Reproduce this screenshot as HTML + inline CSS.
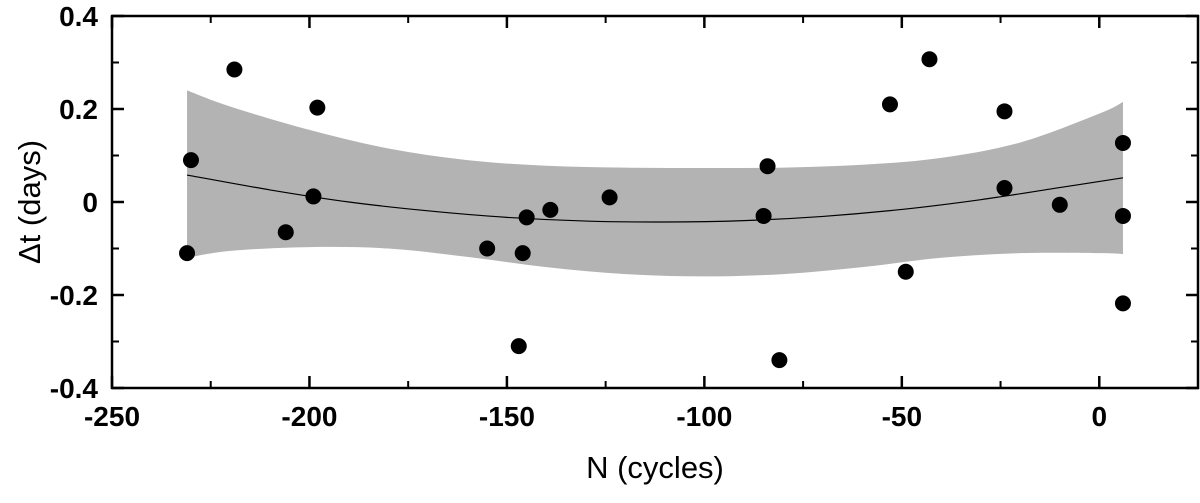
<!DOCTYPE html>
<html><head><meta charset="utf-8"><style>
html,body{margin:0;padding:0;background:#fff;}
svg{display:block;font-family:"Liberation Sans",Arial,sans-serif;}
</style></head><body>
<svg id="chart" width="1200" height="503" viewBox="0 0 1200 503">
<g id="band"></g>
<g id="fit"></g>
<g id="pts"></g>
<rect x="112" y="16" width="1086" height="372" fill="none" stroke="#000" stroke-width="2.5"/>
<g id="ticks"></g>
<text x="655" y="478" font-size="31" text-anchor="middle">N (cycles)</text>
<text transform="translate(40,202) rotate(-90)" font-size="31" text-anchor="middle">Δt (days)</text>
</svg>
<script>
const xs = [-231,-230,-219,-206,-199,-198,-155,-147,-146,-145,-139,-124,-85,-84,-81,-53,-49,-43,-24,-24,-10,6,6,6];
const ys = [-0.11,0.09,0.285,-0.065,0.012,0.203,-0.10,-0.31,-0.11,-0.033,-0.017,0.01,-0.03,0.077,-0.34,0.21,-0.15,0.307,0.195,0.03,-0.006,0.127,-0.03,-0.218];
const bandX = [-231,-220,-200,-180,-160,-140,-120,-100,-80,-60,-40,-20,0,6];
const bandUpper = [0.24,0.205,0.155,0.115,0.09,0.078,0.074,0.073,0.074,0.08,0.095,0.128,0.19,0.215];
const bandLower = [-0.12,-0.105,-0.097,-0.10,-0.118,-0.14,-0.155,-0.16,-0.155,-0.14,-0.12,-0.11,-0.11,-0.112];
const fitX = [-231,-210,-190,-170,-150,-130,-110,-90,-70,-50,-30,-10,6];
const fitY = [0.058,0.026,0.0,-0.019,-0.033,-0.041,-0.043,-0.04,-0.031,-0.016,0.005,0.031,0.052];
const xTicks = [-250,-200,-150,-100,-50,0];
const xMinor = [-225,-175,-125,-75,-25];
const yTicks = [0.4,0.2,0,-0.2,-0.4];
const yTickLabels = ["0.4","0.2","0","-0.2","-0.4"];
const yMinor = [0.3,0.1,-0.1,-0.3];
const X = v => 112 + (v + 250) * 1086 / 275;
const Y = v => 202 - v * 465;
const NS = "http://www.w3.org/2000/svg";
function mk(tag, attrs, parent){const e=document.createElementNS(NS,tag);for(const k in attrs)e.setAttribute(k,attrs[k]);parent.appendChild(e);return e;}
function smooth(P, start){
  let d=(start?"M":"L")+P[0][0]+","+P[0][1];
  for(let i=0;i<P.length-1;i++){
    const p0=P[Math.max(i-1,0)],p1=P[i],p2=P[i+1],p3=P[Math.min(i+2,P.length-1)];
    const c1=[p1[0]+(p2[0]-p0[0])/6,p1[1]+(p2[1]-p0[1])/6];
    const c2=[p2[0]-(p3[0]-p1[0])/6,p2[1]-(p3[1]-p1[1])/6];
    d+="C"+c1[0]+","+c1[1]+" "+c2[0]+","+c2[1]+" "+p2[0]+","+p2[1];
  }
  return d;
}
const band=document.getElementById('band');
const up=bandX.map((x,i)=>[X(x),Y(bandUpper[i])]);
const lo=bandX.map((x,i)=>[X(x),Y(bandLower[i])]).reverse();
const bp=mk('path',{d:smooth(up,true)+smooth(lo,false)+"Z",fill:"#b3b3b3"},band);


const fit=document.getElementById('fit');
const fp=mk('path',{d:smooth(fitX.map((x,i)=>[X(x),Y(fitY[i])]),true),fill:"none",stroke:"#000","stroke-width":1.2},fit);


const pts=document.getElementById('pts');
xs.forEach((x,i)=>{const c=mk('circle',{cx:X(x),cy:Y(ys[i]),r:8,fill:"#000"},pts);

});
const tk=document.getElementById('ticks');
xTicks.forEach(v=>{const x=X(v);
mk('line',{x1:x,x2:x,y1:388,y2:376,stroke:"#000","stroke-width":2.5},tk);
mk('line',{x1:x,x2:x,y1:16,y2:28,stroke:"#000","stroke-width":2.5},tk);
const t=mk('text',{x:x,y:426,"font-size":28,"font-weight":"bold","text-anchor":"middle"},tk);t.textContent=v;

});
xMinor.forEach(v=>{const x=X(v);
mk('line',{x1:x,x2:x,y1:388,y2:381,stroke:"#000","stroke-width":2},tk);
mk('line',{x1:x,x2:x,y1:16,y2:23,stroke:"#000","stroke-width":2},tk);});
yTicks.forEach((v,i)=>{const y=Y(v);
mk('line',{x1:112,x2:124,y1:y,y2:y,stroke:"#000","stroke-width":2.5},tk);
mk('line',{x1:1198,x2:1186,y1:y,y2:y,stroke:"#000","stroke-width":2.5},tk);
const t=mk('text',{x:98,y:y+10,"font-size":28,"font-weight":"bold","text-anchor":"end"},tk);t.textContent=yTickLabels[i];

});
yMinor.forEach(v=>{const y=Y(v);
mk('line',{x1:112,x2:119,y1:y,y2:y,stroke:"#000","stroke-width":2},tk);
mk('line',{x1:1198,x2:1191,y1:y,y2:y,stroke:"#000","stroke-width":2},tk);});
</script>
</body></html>
